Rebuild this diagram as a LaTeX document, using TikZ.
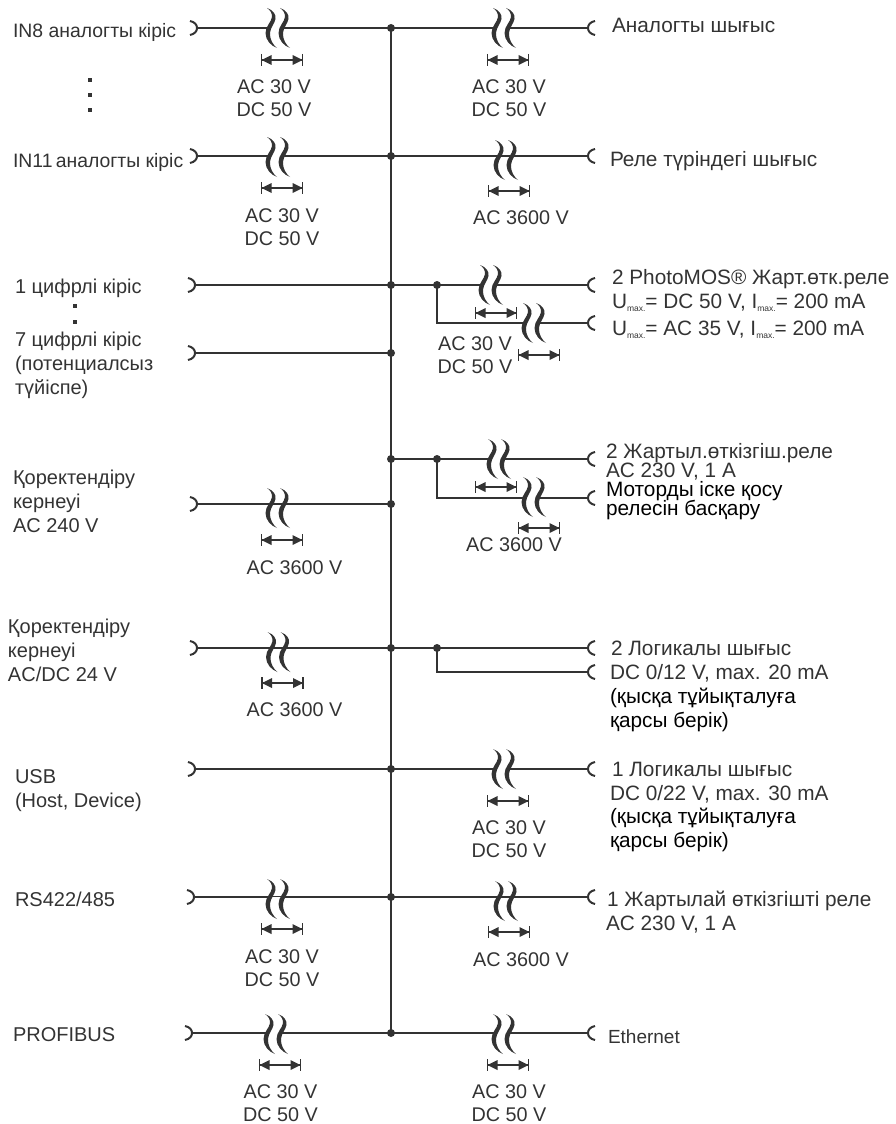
\documentclass[tikz,border=0pt]{standalone}
\usepackage{fontspec}
\setmainfont{Liberation Sans}
\definecolor{ink}{HTML}{333333}
\newcommand{\um}[1]{#1\raisebox{-3pt}{\fontsize{8.5}{8.5}\selectfont max.}}
\tikzset{
  x=1pt,y=-1pt,
  wire/.style={draw=ink,line width=2.1pt},
  lbl/.style={anchor=base west,inner sep=0pt,outer sep=0pt,text=ink,font=\fontsize{20}{24}\selectfont,align=left},
  lblin/.style={lbl,font=\fontsize{19.4}{24}\selectfont},
  lblr/.style={lbl,font=\fontsize{20.8}{24}\selectfont},
  blk/.style={lblr,text=black},
  volt/.style={anchor=base,inner sep=0pt,outer sep=0pt,text=ink,font=\fontsize{19.8}{23}\selectfont,align=center},
  dotmark/.style={fill=ink,inner sep=0pt,minimum size=4.5pt,draw=none,shape=rectangle},
  brk/.pic={
    \fill[white] (-9,-2) rectangle (3,2);
    \foreach \d in {0,13}{
      \fill[ink,xshift=\d pt] (-12,-20) .. controls (-6,-18) and (-2.5,-13) .. (-3.5,-9)
        .. controls (-4.5,-4) and (-8.5,-1) .. (-9,5)
        .. controls (-9.5,11) and (-6,17) .. (-2,20)
        .. controls (-8,18) and (-13.5,12) .. (-13.5,5)
        .. controls (-13.5,-2) and (-7.5,-6) .. (-7,-11)
        .. controls (-6.8,-15) and (-9,-18) .. (-12,-20) -- cycle;
    }
  },
  capl/.pic={\draw[ink,line width=2pt] (-7,-7) .. controls (-2,-6) and (0,-3) .. (0,0) .. controls (0,3) and (-2,6) .. (-7,7);},
  capr/.pic={\draw[ink,line width=2pt] (7,-7) .. controls (2,-6) and (0,-3) .. (0,0) .. controls (0,3) and (2,6) .. (7,7);},
  dimm/.pic={
    \draw[ink,line width=1.6pt] (-20.5,-6) -- (-20.5,6) (20.5,-6) -- (20.5,6) (-20.5,0) -- (20.5,0);
    \fill[ink] (-20.5,0) -- (-10.5,-5) -- (-10.5,5) -- cycle (20.5,0) -- (10.5,-5) -- (10.5,5) -- cycle;
  }
}
\begin{document}
\begin{tikzpicture}
\useasboundingbox (0,0) rectangle (895,1124);
% bus
\coordinate (bt) at (391,28);
\coordinate (bb) at (391,1033);
\draw[wire] (bt) -- (bb);
% left end points and junctions
\foreach \n/\x/\y in {a/197/28,b/197/156,c/195/285,d/195/353,e/197/504,f/197/648,g/195/769,h/194/897,i/192/1033}{
  \coordinate (L\n) at (\x,\y);
  \coordinate (J\n) at (391,\y);
  \draw[wire] (L\n) -- (J\n);
  \pic at (L\n) {capl};
  \fill[ink] (J\n) circle (4);
}
\foreach \n/\y in {a/28,b/156,g/769,h/897,i/1033}{
  \coordinate (R\n) at (588,\y);
  \draw[wire] (J\n) -- (R\n);
  \pic at (R\n) {capr};
}
% branch rows
\coordinate (Kc) at (437,285);
\coordinate (Rc) at (588,285);
\coordinate (Rc2) at (588,323);
\coordinate (Kc2) at (437,323);
\draw[wire] (Jc) -- (Rc);
\draw[wire] (Kc) -- (Kc2) -- (Rc2);
\coordinate (Jx) at (391,459);
\coordinate (Kx) at (437,459);
\coordinate (Rx) at (588,459);
\coordinate (Kx2) at (437,498);
\coordinate (Rx2) at (588,498);
\draw[wire] (Jx) -- (Rx);
\draw[wire] (Kx) -- (Kx2) -- (Rx2);
\coordinate (Kf) at (437,648);
\coordinate (Rf) at (588,648);
\coordinate (Kf2) at (437,672);
\coordinate (Rf2) at (588,672);
\draw[wire] (Jf) -- (Rf);
\draw[wire] (Kf) -- (Kf2) -- (Rf2);
\foreach \p in {Jx,Kc,Kx,Kf}{\fill[ink] (\p) circle (4);}
\foreach \p in {Rc,Rc2,Rx,Rx2,Rf,Rf2}{\pic at (\p) {capr};}
% breaks: centre of the pair
\foreach \x/\y in {279/28,279/157,279/508,279.5/652,279/899,277/1034,
                   505/28,507/160,492/285,535/323,500/459,535/497,505/769,507/901,505/1034}{
  \pic at (\x,\y) {brk};
}
% dimension marks
\foreach \x/\y in {282/60,282/188,282/540,282.5/683,282/929,280/1065,
                   508/60,509/191,496/313,539/355,496/487,539/528,508/801,509/932,508/1065}{
  \pic at (\x,\y) {dimm};
}
% voltage labels (base = last line)
\foreach \n/\x/\y/\t in {
 v1/274/116/{AC 30 V\\DC 50 V},
 v2/509/116/{AC 30 V\\DC 50 V},
 v3/282/245/{AC 30 V\\DC 50 V},
 v4/521/224/{AC 3600 V},
 v5/475/373/{AC 30 V\\DC 50 V},
 v6/514/551/{AC 3600 V},
 v7/294.5/574/{AC 3600 V},
 v8/294.5/716/{AC 3600 V},
 v9/509/857/{AC 30 V\\DC 50 V},
 v10/282/986/{AC 30 V\\DC 50 V},
 v11/521/966/{AC 3600 V},
 v12/280.5/1121/{AC 30 V\\DC 50 V},
 v13/509/1121/{AC 30 V\\DC 50 V}}{
  \node[volt] (\n) at (\x,\y) {\t};
}
% left labels (base = last line)
\node[lblin] (t1) at (13,38) {IN8 аналогты кіріс};
\node[lblin] (t2) at (13,167) {IN11\,аналогты кіріс};
\node[lbl] (t3) at (15,293) {1 цифрлі кіріс};
\node[lbl] (t4) at (15,394) {7 цифрлі кіріс\\(потенциалсыз\\түйіспе)};
\node[lbl] (t5) at (13,532) {Қоректендіру\\кернеуі\\AC 240 V};
\node[lbl] (t6) at (8,681) {Қоректендіру\\кернеуі\\AC/DC 24 V};
\node[lbl] (t7) at (15,807) {USB\\(Host, Device)};
\node[lbl] (t8) at (15,906) {RS422/485};
\node[lbl] (t9) at (13,1041) {PROFIBUS};
% dots
\foreach \n/\x/\y in {d1/90/80,d2/90/95,d3/90/110,d4/75/306,d5/75/322}{
  \node[dotmark] (\n) at (\x,\y) {};
}
% right labels
\node[lblr] (r1) at (612,33) {Аналогты шығыс};
\node[lblr] (r2) at (610,166) {Реле түріндегі шығыс};
\node[lblr] (r3) at (612,284) {2 PhotoMOS® Жарт.өтк.реле};
\node[lblr] (r4) at (612,308) {\um{U}= DC 50 V, \um{I}= 200 mA};
\node[lblr] (r5) at (612,335) {\um{U}= AC 35 V, \um{I}= 200 mA};
\node[lblr] (r6) at (606,458) {2 Жартыл.өткізгіш.реле};
\node[lblr] (r7) at (606,477) {AC 230 V, 1 A};
\node[blk] (r8) at (606,496) {Моторды іске қосу};
\node[blk] (r9) at (606,515) {релесін басқару};
\node[lblr] (r10) at (611,655) {2 Логикалы шығыс};
\node[lblr] (r11) at (610,679) {DC 0/12 V, max. 20 mA};
\node[blk] (r12) at (610,727) {(қысқа тұйықталуға\\қарсы берік)};
\node[lblr] (r13) at (612,776) {1 Логикалы шығыс};
\node[lblr] (r14) at (610,800) {DC 0/22 V, max. 30 mA};
\node[blk] (r15) at (610,847) {(қысқа тұйықталуға\\қарсы берік)};
\node[lblr] (r16) at (607,906) {1 Жартылай өткізгішті реле};
\node[lblr] (r17) at (606,930) {AC 230 V, 1 A};
\node[lbl,font=\fontsize{19}{23}\selectfont] (r18) at (608,1043) {Ethernet};
\end{tikzpicture}
\end{document}
